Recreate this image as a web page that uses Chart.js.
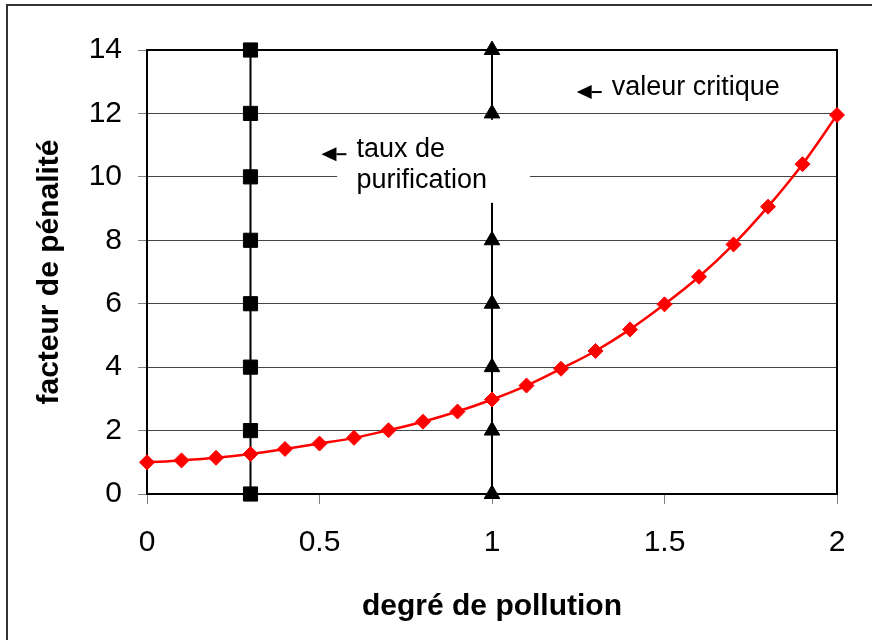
<!DOCTYPE html>
<html>
<head>
<meta charset="utf-8">
<script src="https://cdn.jsdelivr.net/npm/chart.js@4/dist/chart.umd.min.js"></script>
<style>
  html, body { margin: 0; padding: 0; background: #fff; }
  #wrap { width: 872px; height: 640px; }
</style>
</head>
<body>
<div id="wrap"><canvas id="chart"></canvas></div>
<script>
// Pollution degree (x) and penalty factor (y)
const pollution = [0, 0.1, 0.2, 0.3, 0.4, 0.5, 0.6, 0.7, 0.8, 0.9, 1.0,
                   1.1, 1.2, 1.3, 1.4, 1.5, 1.6, 1.7, 1.8, 1.9, 2.0];
const penalty = [1.0, 1.06, 1.14, 1.26, 1.42, 1.59, 1.77, 2.01, 2.28, 2.6, 2.98,
                 3.42, 3.95, 4.51, 5.19, 5.98, 6.85, 7.87, 9.06, 10.4, 11.95];

// Vertical marker lines
const purificationX = 0.3;
const purificationLevels = [0, 2, 4, 6, 8, 10, 12, 14];
const criticalX = 1.0;
const criticalLevels = [0, 2, 4, 6, 8, 10, 12, 14];

const FONT = '"Liberation Sans", Arial, sans-serif';

// Frame, plot border and the two text notes with arrows
const decorations = {
  id: 'decorations',
  beforeDraw(chart) {
    const ctx = chart.ctx;
    ctx.save();
    ctx.strokeStyle = '#333';
    ctx.lineWidth = 2;
    ctx.strokeRect(7, 5, 900, 700);
    ctx.restore();
  },
  beforeDatasetsDraw(chart) {
    const { ctx, chartArea: a } = chart;
    ctx.save();
    ctx.strokeStyle = '#000';
    ctx.lineWidth = 2;
    ctx.beginPath();
    ctx.moveTo(a.left, a.top);
    ctx.lineTo(a.right, a.top);
    ctx.lineTo(a.right, a.bottom);
    ctx.stroke();
    ctx.restore();
  },
  afterDatasetsDraw(chart) {
    const { ctx, scales: { x, y } } = chart;
    ctx.save();

    // white box behind the "taux de purification" note
    const bx0 = x.getPixelForValue(0.551), bx1 = x.getPixelForValue(1.11);
    const by0 = y.getPixelForValue(11.8), by1 = y.getPixelForValue(9.18);
    ctx.fillStyle = '#fff';
    ctx.fillRect(bx0, by0, bx1 - bx0, by1 - by0);

    ctx.fillStyle = '#000';
    ctx.strokeStyle = '#000';
    ctx.font = '27px ' + FONT;
    ctx.textBaseline = 'alphabetic';
    ctx.textAlign = 'left';

    const arrow = (tx, ty) => {
      // tx is the left edge of the text, ty its baseline
      const ay = ty - 3;
      const tip = tx - 35, neck = tip + 15, tail = tx - 10;
      ctx.beginPath();
      ctx.moveTo(tip, ay);
      ctx.lineTo(neck, ay - 7);
      ctx.lineTo(neck, ay + 7);
      ctx.closePath();
      ctx.fill();
      ctx.lineWidth = 2;
      ctx.beginPath();
      ctx.moveTo(neck, ay);
      ctx.lineTo(tail, ay);
      ctx.stroke();
    };

    let tx = x.getPixelForValue(0.607);
    let ty = y.getPixelForValue(10.62);
    ctx.fillText('taux de', tx, ty);
    ctx.fillText('purification', tx, ty + 31);
    arrow(tx, ty);

    tx = x.getPixelForValue(1.347);
    ty = y.getPixelForValue(12.58);
    ctx.fillText('valeur critique', tx, ty);
    arrow(tx, ty);

    ctx.restore();
  }
};

const ctx = document.getElementById('chart').getContext('2d');

new Chart(ctx, {
  type: 'line',
  data: {
    datasets: [{
      label: 'facteur de pénalité',
      data: pollution.map((v, i) => ({ x: v, y: penalty[i] })),
      borderColor: '#ff0000',
      backgroundColor: '#ff0000',
      borderWidth: 2.5,
      tension: 0.35,
      pointStyle: 'rectRot',
      pointRadius: 7.5,
      pointBorderWidth: 1,
      clip: false
    }, {
      label: 'taux de purification',
      data: purificationLevels.map(v => ({ x: purificationX, y: v })),
      borderColor: '#000',
      backgroundColor: '#000',
      borderWidth: 2,
      pointStyle: 'rect',
      pointRadius: 10,
      pointBorderWidth: 1,
      clip: false
    }, {
      label: 'valeur critique',
      data: criticalLevels.map(v => ({ x: criticalX, y: v })),
      borderColor: '#000',
      backgroundColor: '#000',
      borderWidth: 2,
      pointStyle: 'triangle',
      pointRadius: 9,
      pointBorderWidth: 1,
      clip: false
    }]
  },
  options: {
    responsive: true,
    maintainAspectRatio: false,
    animation: false,
    locale: 'en-US',
    layout: { padding: { left: 0, top: 50, right: 35, bottom: 0 } },
    plugins: {
      legend: { display: false },
      tooltip: { enabled: false }
    },
    scales: {
      x: {
        type: 'linear',
        min: 0,
        max: 2,
        ticks: {
          stepSize: 0.5,
          padding: 21,
          color: '#000',
          font: { family: FONT, size: 30 },
          callback: v => String(+v.toFixed(1))
        },
        grid: { drawOnChartArea: false, drawTicks: true, tickLength: 10, tickColor: '#808080' },
        border: { color: '#000', width: 2 },
        title: {
          display: true,
          text: 'degré de pollution',
          color: '#000',
          font: { family: FONT, size: 30, weight: 'bold' },
          padding: { top: 0, bottom: 15 }
        },
        afterFit(scale) { scale.height = 146; }
      },
      y: {
        min: 0,
        max: 14,
        ticks: { stepSize: 2, padding: 16, color: '#000', font: { family: FONT, size: 30 } },
        grid: { color: '#444', lineWidth: 1, tickLength: 9, tickColor: '#808080' },
        border: { color: '#000', width: 2 },
        title: {
          display: true,
          text: 'facteur de pénalité',
          color: '#000',
          font: { family: FONT, size: 30, weight: 'bold' },
          padding: { top: 32, bottom: 0 }
        },
        afterFit(scale) { scale.width = 147; }
      }
    }
  },
  plugins: [decorations]
});
</script>
</body>
</html>
